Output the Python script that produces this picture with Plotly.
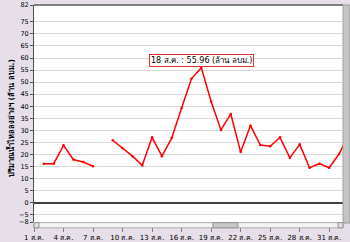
import plotly.graph_objects as go

# ---- data ----
days = [2, 3, 4, 5, 6, 7, 8, 9, 10, 11, 12, 13, 14, 15, 16, 17, 18, 19, 20,
        21, 22, 23, 24, 25, 26, 27, 28, 29, 30, 31, 32, 33]
inflow = [16.2, 16.2, 23.8, 17.9, 16.9, 15.1, None, 25.9, 22.6, 19.3, 15.5,
          27.1, 19.3, 26.9, 39.3, 51.4, 55.96, 42.0, 30.2, 36.8, 21.0, 32.0,
          23.9, 23.4, 27.1, 18.6, 24.2, 14.5, 16.2, 14.5, 20.2, 28.5]
x_tick_vals = [1, 4, 7, 10, 13, 16, 19, 22, 25, 28, 31]
x_tick_text = ["1 ส.ค.", "4 ส.ค.", "7 ส.ค.", "10 ส.ค.", "13 ส.ค.", "16 ส.ค.",
               "19 ส.ค.", "22 ส.ค.", "25 ส.ค.", "28 ส.ค.", "31 ส.ค."]
y_tick_vals = [-8, -5, 0, 5, 10, 15, 20, 25, 30, 35, 40, 45, 50, 55, 60, 65,
               70, 75, 82]
y_title = "ปริมาณน้ำไหลลงอ่างฯ (ล้าน ลบม.)"
peak_day = 18
peak_val = 55.96
peak_label = "18 ส.ค. : 55.96 (ล้าน ลบม.)"

FONT = "Tahoma, 'DejaVu Sans', 'Noto Sans', sans-serif"

fig = go.Figure()
fig.add_trace(go.Scatter(
    x=days, y=inflow, mode="lines+markers",
    line=dict(color="#FF0000", width=1.5),
    marker=dict(color="#FF0000", size=2.5),
    connectgaps=False, hoverinfo="skip", showlegend=False,
))

fig.add_annotation(
    x=peak_day, y=peak_val, text=peak_label, showarrow=False, yshift=7,
    font=dict(family=FONT, size=8, color="#000000"),
    bgcolor="#FFFFFF", bordercolor="#E03030", borderwidth=1, borderpad=1,
)
fig.add_annotation(
    x=-0.098, y=0.48, xref="paper", yref="paper", text="<b>" + y_title + "</b>",
    textangle=-90, showarrow=False,
    font=dict(family=FONT, size=7.5, color="#000000"),
)

shapes = [
    dict(type="line", xref="paper", yref="paper", x0=0, x1=1, y0=1, y1=1,
         line=dict(color="#808080", width=2)),
    dict(type="rect", xref="paper", yref="paper", x0=1.0, x1=1.022, y0=-0.005, y1=1.0,
         fillcolor="#C4C4C4", line=dict(color="#A0A0A0", width=1)),
    dict(type="rect", xref="paper", yref="paper", x0=0.0, x1=1.0, y0=-0.027, y1=-0.003,
         fillcolor="#F4F4F4", line=dict(color="#B0B0B0", width=1)),
    dict(type="rect", xref="paper", yref="paper", x0=0.579, x1=0.66, y0=-0.027, y1=-0.003,
         fillcolor="#C8C8C8", line=dict(color="#909090", width=1)),
    dict(type="rect", xref="paper", yref="paper", x0=0.0, x1=0.016, y0=-0.027, y1=-0.003,
         fillcolor="#E0E0E0", line=dict(color="#909090", width=1)),
    dict(type="rect", xref="paper", yref="paper", x0=0.984, x1=1.0, y0=-0.027, y1=-0.003,
         fillcolor="#E0E0E0", line=dict(color="#909090", width=1)),
]
fig.update_layout(shapes=shapes)

fig.update_xaxes(
    range=[1, 32.4], tickvals=x_tick_vals, ticktext=x_tick_text,
    tickangle=0, automargin=False,
    showgrid=False, zeroline=False, showline=False,
    ticks="outside", ticklen=9, tickcolor="#808080", tickwidth=1,
    tickfont=dict(family=FONT, size=7, color="#000000"),
)
fig.update_yaxes(
    range=[-8, 82], tickvals=y_tick_vals, automargin=False,
    showgrid=True, gridcolor="#D8D8D8", gridwidth=1,
    zeroline=True, zerolinecolor="#404040", zerolinewidth=1.5,
    showline=True, linecolor="#505050", linewidth=1,
    ticks="outside", ticklen=3, tickcolor="#505050",
    tickfont=dict(family=FONT, size=6.5, color="#000000"),
)

fig.update_layout(
    width=350, height=242,
    margin=dict(l=34, r=7, t=5, b=20),
    paper_bgcolor="#E6DFE9", plot_bgcolor="#FFFFFF",
    font=dict(family=FONT, size=8),
)

fig.write_html("out.html")
